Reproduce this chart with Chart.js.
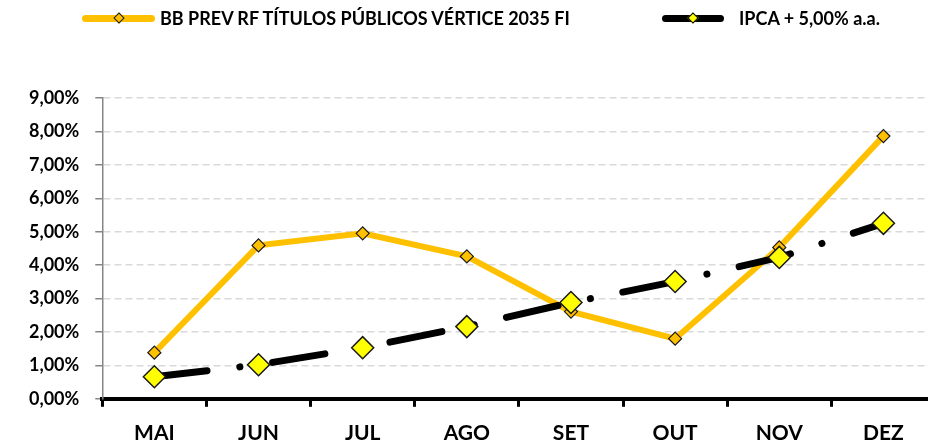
<!DOCTYPE html>
<html>
<head>
<meta charset="utf-8">
<script src="https://cdn.jsdelivr.net/npm/chart.js@4"></script>
<style>
  body { margin: 0; background: #fff; overflow: hidden; }
  #wrap { position: relative; width: 928px; height: 444px; overflow: hidden; }
  .legend { position: absolute; top: 7px; font: bold 18px Lato, sans-serif; color: #000; display: flex; align-items: center; }
  .sample { position: relative; height: 7px; border-radius: 4px; }
  .sample i { position: absolute; left: 50%; top: 50%; width: 6px; height: 6px; transform: translate(-50%, -50%) rotate(45deg); border: 1px solid #1a1a1a; }
</style>
</head>
<body>
<div id="wrap">
  <canvas id="c" width="948" height="444"></canvas>
  <div class="legend" style="left:82px"><span class="sample" style="width:73px;margin-right:5px;background:#ffc000"><i style="background:#ffc000"></i></span><span id="l0"></span></div>
  <div class="legend" style="left:662px"><span class="sample" style="width:62px;margin-right:15px;background:#000"><i style="background:#ffff00;border-color:#000"></i></span><span id="l1"></span></div>
</div>
<script>
// categories and series (% accumulated)
const months = ["MAI", "JUN", "JUL", "AGO", "SET", "OUT", "NOV", "DEZ"];
const fundName = "BB PREV RF TÍTULOS PÚBLICOS VÉRTICE 2035 FI";
const benchName = "IPCA + 5,00% a.a.";
const fundValues = [1.38, 4.59, 4.95, 4.26, 2.61, 1.80, 4.53, 7.86];
const benchValues = [0.66, 1.02, 1.53, 2.16, 2.88, 3.51, 4.23, 5.25];
const yTicks = [0, 1, 2, 3, 4, 5, 6, 7, 8, 9];

document.getElementById("l0").textContent = fundName;
document.getElementById("l1").textContent = benchName;

const fmtPct = v => v.toFixed(2).replace(".", ",") + "%";

new Chart(document.getElementById("c"), {
  type: "line",
  data: {
    labels: months,
    datasets: [{
      label: fundName,
      data: fundValues,
      borderColor: "#ffc000",
      borderWidth: 6,
      pointStyle: "rectRot",
      pointRadius: 6.5,
      pointBackgroundColor: "#ffc000",
      pointBorderColor: "#1a1a1a",
      pointBorderWidth: 1.2,
      order: 1
    }, {
      label: benchName,
      data: benchValues,
      borderColor: "#000",
      borderWidth: 7,
      borderCapStyle: "round",
      borderDash: [53, 33, 0.1, 33],
      pointStyle: "rectRot",
      pointRadius: 11,
      pointBackgroundColor: "#ffff00",
      pointBorderColor: "#1a1a1a",
      pointBorderWidth: 1.5,
      order: 0
    }]
  },
  options: {
    responsive: false,
    animation: false,
    layout: { padding: { top: 98, left: 13, right: 0, bottom: -16 } },
    plugins: { legend: { display: false }, tooltip: { enabled: false } },
    scales: {
      x: {
        offset: true,
        afterFit: s => { s.paddingLeft = 0; s.paddingRight = 0; },
        grid: { display: true, offset: true, drawOnChartArea: false, color: "#000", lineWidth: 3, tickLength: 8 },
        border: { display: true, color: "#000", width: 4 },
        ticks: { color: "#000", font: { family: "Lato", weight: "bold", size: 21 }, padding: 14 }
      },
      y: {
        min: 0,
        max: 9,
        afterBuildTicks: axis => { axis.ticks = yTicks.map(v => ({ value: v })); },
        grid: { color: "#d9d9d9", lineWidth: 1.5, tickLength: 7, tickColor: "#868686" },
        border: { display: true, color: "#868686", width: 1.5, dash: [7, 4] },
        ticks: { color: "#000", font: { family: "Lato", weight: "bold", size: 18 }, padding: 16, callback: v => fmtPct(v) }
      }
    }
  }
});
</script>
</body>
</html>
